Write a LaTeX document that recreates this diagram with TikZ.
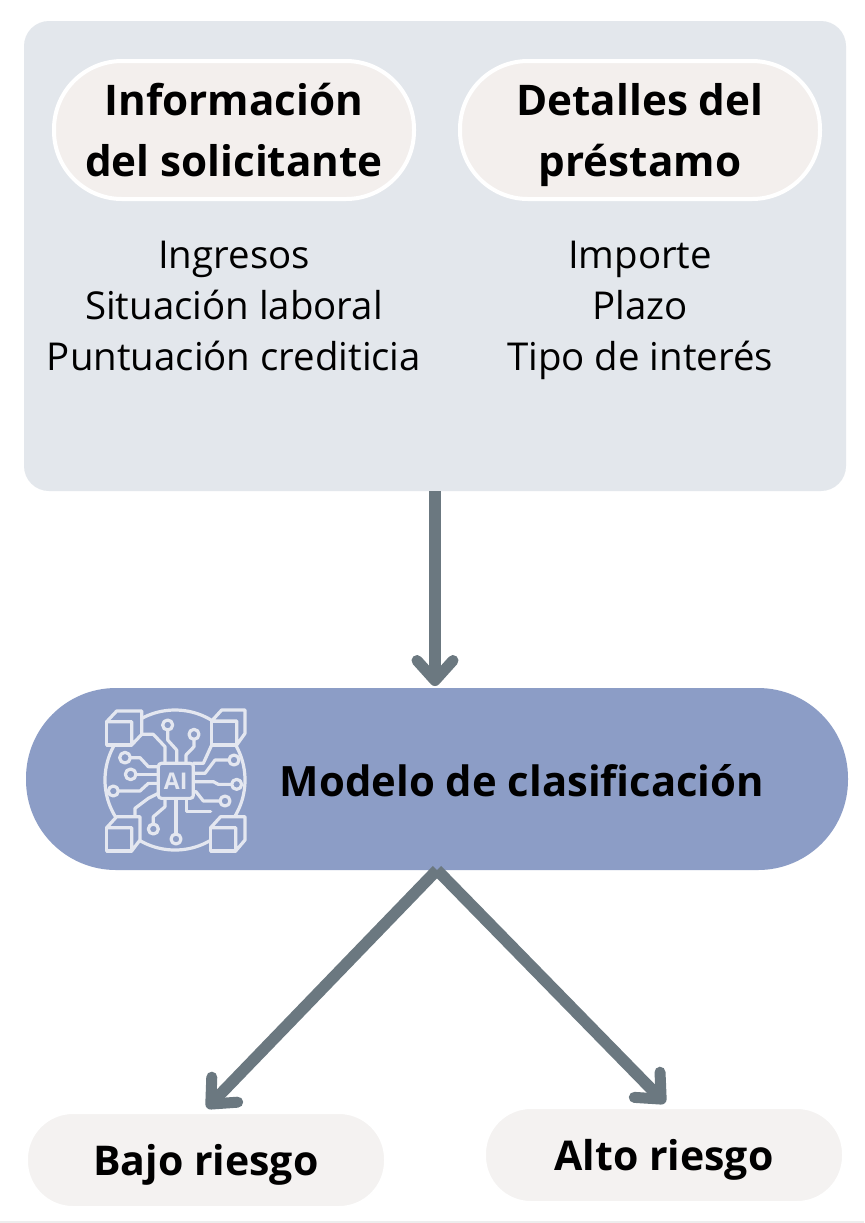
\documentclass[tikz,border=0pt]{standalone}
\usepackage{fontspec}
\setmainfont{Open Sans}
\usetikzlibrary{arrows.meta}
\definecolor{panelc}{HTML}{E3E7EC}
\definecolor{pillc}{HTML}{F3EFED}
\definecolor{endc}{HTML}{F4F2F1}
\definecolor{modelc}{HTML}{8C9DC6}
\definecolor{arrowc}{HTML}{6B7880}
\definecolor{iconc}{HTML}{E4E7F0}
\newcommand{\nodepth}[1]{\raisebox{0pt}[\height][0pt]{#1}}
\tikzset{
  x=0.5pt,y=-0.5pt,
  panelbox/.style={draw=none,fill=panelc,rounded corners=12.5pt,minimum width=411pt,minimum height=235pt,inner sep=0pt},
  toppill/.style={draw=white,line width=2pt,fill=pillc,rounded corners=34pt,minimum width=180pt,minimum height=69pt,inner sep=0pt,align=center,font=\bfseries\fontsize{21.1}{30.5}\selectfont,text=black},
  listtext/.style={align=center,inner sep=0pt,font=\fontsize{19.2}{25.5}\selectfont,text=black},
  modelbox/.style={fill=modelc,rounded corners=45pt,minimum width=411pt,minimum height=91pt,inner sep=0pt},
  boldlabel/.style={inner sep=0pt,font=\bfseries\fontsize{20.9}{25}\selectfont,text=black},
  endpill/.style={draw=white,line width=1pt,fill=endc,rounded corners=23pt,minimum width=179pt,minimum height=47pt,inner sep=0pt,font=\bfseries\fontsize{20.5}{25}\selectfont,text=black},
  flow/.style={draw=arrowc,line width=5.8pt,-{Straight Barb[length=10pt,width=18pt,line width=5.5pt,round]}},
  iconline/.style={draw=iconc,line width=1.6pt,line join=round,line cap=round},
  cubeface/.style={iconline,fill=modelc},
  dot/.style={iconline,fill=modelc},
}
\begin{document}
\begin{tikzpicture}
\useasboundingbox (0,0) rectangle (864,1223);
\fill[white] (0,0) rectangle (864,1223);
\fill[black!7] (0,1221) rectangle (864,1223);
\node[panelbox] (panel) at (435,256) {};
\node[toppill] (info) at (234,130) {Información\\del solicitante};
\node[toppill] (det) at (640,130) {Detalles del\\\nodepth{préstamo}};
\node[listtext] (l1) at (234,306) {Ingresos\\Situación laboral\\Puntuación crediticia};
\node[listtext] (l2) at (640,306) {Importe\\Plazo\\\nodepth{Tipo de interés}};
\node[modelbox] (model) at (437,779) {};
\node[boldlabel] (mtext) at (522,781) {Modelo de clasificación};
\node[endpill] (bajo) at (206,1160) {\nodepth{Bajo riesgo}};
\node[endpill] (alto) at (664,1155) {\nodepth{Alto riesgo}};
\coordinate (t1) at (435,686);
\coordinate (s2) at (437,870);
\coordinate (t2) at (207,1108);
\coordinate (t3) at (665,1103);
\draw[flow] (panel.south -| t1) -- (t1);
\draw[flow] (s2) -- (t2);
\draw[flow] (s2) -- (t3);
\begin{scope}[shift={(90,695)},x=0.16667pt,y=-0.16667pt]
  \draw[iconline] (255,255) circle (210);
  % traces
  \draw[iconline] (233,105) -- (233,135) -- (260,165) -- (260,205);
  \draw[iconline] (312,133) -- (312,155) -- (288,180) -- (288,205);
  \draw[iconline] (150,118) -- (190,118) -- (225,155) -- (225,205);
  \draw[iconline] (121,188) -- (150,188) -- (175,215) -- (205,215);
  \draw[iconline] (138,238) -- (205,238);
  \draw[iconline] (85,288) -- (150,288) -- (175,265) -- (205,265);
  \draw[iconline] (205,295) -- (175,310) -- (135,340) -- (135,370);
  \draw[iconline] (417,195) -- (375,195) -- (345,235) -- (310,235);
  \draw[iconline] (310,260) -- (370,260) -- (385,268) -- (425,268);
  \draw[iconline] (390,318) -- (340,318) -- (318,290) -- (310,290);
  \draw[iconline] (365,150) -- (340,205) -- (310,205);
  \draw[iconline] (258,417) -- (258,310);
  \draw[iconline] (190,387) -- (190,365) -- (225,335) -- (225,310);
  \draw[iconline] (290,310) -- (290,350) -- (362,350);
  % dots
  \draw[dot] (233,90) circle (15);
  \draw[dot] (312,118) circle (15);
  \draw[dot] (105,188) circle (16);
  \draw[dot] (122,238) circle (16);
  \draw[dot] (70,288) circle (15);
  \draw[dot] (432,195) circle (15);
  \draw[dot] (440,268) circle (15);
  \draw[dot] (405,318) circle (15);
  \draw[dot] (258,432) circle (15);
  \draw[dot] (190,402) circle (15);
  % chip
  \draw[cubeface,rounded corners=1.5pt] (205,205) rectangle (310,310);
  \node[inner sep=0pt,text=iconc,font=\bfseries\fontsize{11.5}{12}\selectfont] (ai) at (257,258) {AI};
  % cubes
  \draw[cubeface] (50,80) -- (125,80) -- (125,150) -- (50,150) -- cycle;
  \draw[cubeface] (50,80) -- (80,48) -- (155,48) -- (155,118) -- (125,150) -- (125,80) -- cycle;
  \draw[cubeface] (365,78) -- (440,78) -- (440,150) -- (365,150) -- cycle;
  \draw[cubeface] (365,78) -- (395,45) -- (465,45) -- (465,115) -- (440,150) -- (440,78) -- cycle;
  \draw[cubeface] (50,398) -- (125,398) -- (125,468) -- (50,468) -- cycle;
  \draw[cubeface] (50,398) -- (80,365) -- (150,365) -- (150,435) -- (125,468) -- (125,398) -- cycle;
  \draw[cubeface] (362,398) -- (437,398) -- (437,468) -- (362,468) -- cycle;
  \draw[cubeface] (362,398) -- (392,365) -- (465,365) -- (465,435) -- (437,468) -- (437,398) -- cycle;
\end{scope}
\end{tikzpicture}
\end{document}
